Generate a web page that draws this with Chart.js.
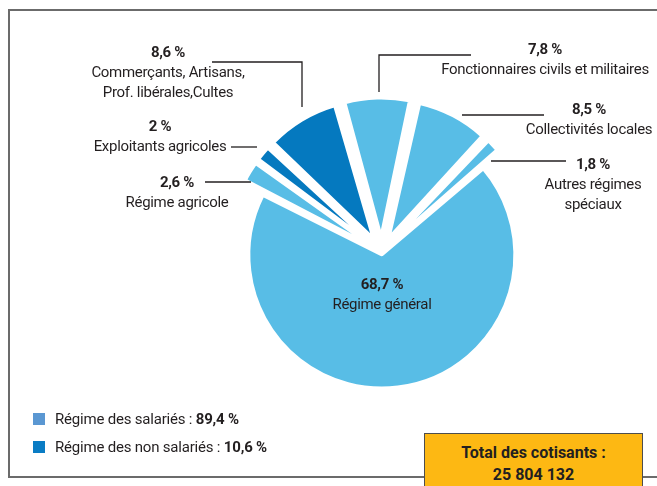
<!DOCTYPE html>
<html lang="fr">
<head>
<meta charset="utf-8">
<script src="https://cdn.jsdelivr.net/npm/chart.js@4.4.1/dist/chart.umd.min.js"></script>
<style>
  html, body { margin:0; padding:0; background:#fff; }
  body { width:657px; height:486px; position:relative; overflow:hidden;
         font-family:Roboto,'Liberation Sans',sans-serif; color:#231f20; }
  #frame { position:absolute; left:8px; top:9px; width:700px; height:465px;
           border:2px solid #6b6b6b; border-right:none; }
  #pie { position:absolute; left:0; top:0; }
  #legend { position:absolute; left:33px; top:405px; font-size:15px; letter-spacing:-0.2px; }
  .row { height:28px; display:flex; align-items:center; }
  .sw { width:12px; height:12px; margin-right:10px; }
  #total { position:absolute; left:424px; top:433px; width:219px; height:70px; box-sizing:border-box;
           background:#fdb813; border:1.5px solid #4d4d4d; text-align:center;
           font-weight:bold; font-size:16px; line-height:22px; padding-top:8px; }
</style>
</head>
<body>
<div id="frame"></div>
<canvas id="pie" width="657" height="486"></canvas>
<div id="legend"></div>
<div id="total"></div>
<script>
// data
const categories = [
  'Fonctionnaires civils et militaires',
  'Collectivités locales',
  'Autres régimes\nspéciaux',
  'Régime général',
  'Régime agricole',
  'Exploitants agricoles',
  'Commerçants, Artisans,\nProf. libérales,Cultes'
];
const shares = [7.8, 8.5, 1.8, 68.7, 2.6, 2.0, 8.6];
const sliceGroup = [0, 0, 0, 0, 0, 1, 1];
const groupNames = ['Régime des salariés', 'Régime des non salariés'];
const totalLabel = 'Total des cotisants :';
const totalContributors = 25804132;

const lightBlue = '#58bde6';
const darkBlue = '#0579bf';
const groupColors = [lightBlue, darkBlue];
const legendColors = ['#5a97d2', '#0a7cc4'];

// how far each slice is pulled out
const sliceOffsets = [63, 64, 51, 12, 52, 51, 65];

// callout placement: text centre x, first line y, leader polyline
const callouts = [
  {x:545, y:50, leader:[[471,55],[379,55],[379,92]]},
  {x:589, y:110, leader:[[544,115],[462,115]]},
  {x:593, y:165, leader:[[566,161],[491,161]]},
  {x:382, y:285, leader:null},
  {x:177, y:183, leader:[[205,182],[251,182]]},
  {x:160, y:127, leader:[[231,147],[257,147]]},
  {x:168, y:53, leader:[[212,62],[302,62],[302,107]]}
];

const fmt = v => String(v).replace('.', ',') + ' %';
const font = "Roboto,'Liberation Sans',sans-serif";

const calloutPlugin = {
  id: 'callouts',
  afterDatasetsDraw(chart) {
    const ctx = chart.ctx;
    ctx.save();
    ctx.fillStyle = '#231f20';
    ctx.strokeStyle = '#231f20';
    ctx.lineWidth = 1.3;
    ctx.textAlign = 'center';
    ctx.textBaseline = 'middle';
    try { ctx.letterSpacing = '-0.3px'; } catch (e) {}
    callouts.forEach((c, i) => {
      ctx.font = 'bold 15px ' + font;
      ctx.fillText(fmt(shares[i]), c.x, c.y);
      ctx.font = '15px ' + font;
      categories[i].split('\n').forEach((line, k) => {
        ctx.fillText(line, c.x, c.y + 20 * (k + 1));
      });
      if (c.leader) {
        ctx.beginPath();
        c.leader.forEach((p, k) => k ? ctx.lineTo(p[0], p[1]) : ctx.moveTo(p[0], p[1]));
        ctx.stroke();
      }
    });
    ctx.restore();
  }
};

const data = {
  labels: categories,
  datasets: [{
    data: shares,
    backgroundColor: sliceGroup.map(g => groupColors[g]),
    borderColor: '#ffffff',
    borderWidth: 3,
    offset: sliceOffsets,
    radius: 130,
    rotation: -15.7
  }]
};

const config = {
  type: 'pie',
  data: data,
  options: {
    responsive: false,
    animation: false,
    layout: {padding: {left:106, right:0, top:18, bottom:0}},
    plugins: {legend: {display:false}, tooltip: {enabled:false}}
  },
  plugins: [calloutPlugin]
};

const chart = new Chart(document.getElementById('pie'), config);

// group legend
const legend = document.getElementById('legend');
groupNames.forEach((name, g) => {
  let sum = 0;
  shares.forEach((v, i) => { if (sliceGroup[i] === g) sum += v; });
  const row = document.createElement('div');
  row.className = 'row';
  row.innerHTML = '<span class="sw" style="background:' + legendColors[g] + '"></span>' +
    '<span>' + name + ' : <b>' + fmt(Math.round(sum * 10) / 10) + '</b></span>';
  legend.appendChild(row);
});

document.getElementById('total').innerHTML = totalLabel + '<br>' +
  totalContributors.toLocaleString('en-US').replace(/,/g, ' ');
</script>
</body>
</html>
